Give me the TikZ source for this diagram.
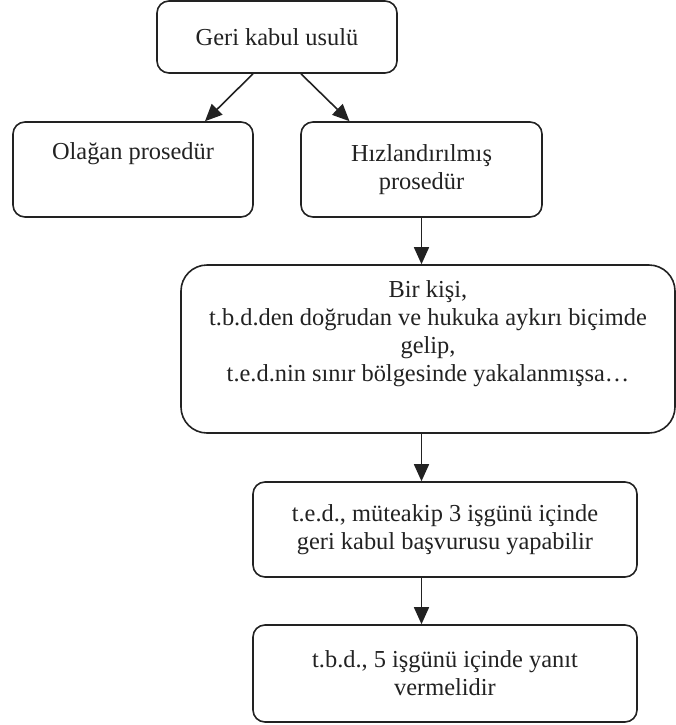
\documentclass[tikz,border=0pt]{standalone}
\usepackage{fontspec}
\setmainfont{Liberation Serif}
\usepackage{tikz}
\usepackage{xcolor}
\usetikzlibrary{arrows.meta,positioning}
\definecolor{ink}{HTML}{222222}
\tikzset{
  stepbox/.style={draw=ink,line width=0.8pt,rounded corners=6pt,
                  align=center,inner sep=3pt,text=ink,
                  font=\fontsize{12.2}{14}\selectfont},
  bigbox/.style={stepbox,rounded corners=13pt},
  flowarr/.style={-{Triangle[length=8.5pt,width=7.5pt]},line width=0.8pt,
                  draw=ink}
}
\begin{document}
\begin{tikzpicture}[x=0.5pt,y=-0.5pt]
    \path[use as bounding box] (0,0) rectangle (676,725);
    \node[stepbox,minimum width=120pt,minimum height=36pt] (geri) at (277,37)
      {Geri kabul usulü};
    \node[stepbox,minimum width=120pt,minimum height=47.5pt] (olagan) at (133,169.5)
      {Olağan prosedür\\\strut};
    \node[stepbox,minimum width=120.5pt,minimum height=47.5pt] (hiz) at (421.5,169.5)
      {Hızlandırılmış\\prosedür};
    \node[bigbox,minimum width=247pt,minimum height=84pt] (kisi) at (428,349)
      {Bir kişi,\\t.b.d.den doğrudan ve hukuka aykırı biçimde\\gelip,\\t.e.d.nin sınır bölgesinde yakalanmışsa…\\[4pt]};
    \node[stepbox,minimum width=192pt,minimum height=47.5pt] (ted) at (445,529.5)
      {t.e.d., müteakip 3 işgünü içinde\\geri kabul başvurusu yapabilir};
    \node[stepbox,minimum width=192pt,minimum height=48.5pt] (tbd) at (445,673.5)
      {t.b.d., 5 işgünü içinde yanıt\\vermelidir};
    \draw[flowarr] ([xshift=-12pt]geri.south) -- ([xshift=36pt]olagan.north);
    \draw[flowarr] ([xshift=12pt]geri.south) -- ([xshift=-36pt]hiz.north);
    \draw[flowarr] (hiz.south) -- (hiz.south |- kisi.north);
    \draw[flowarr] (kisi.south -| hiz.south) -- (hiz.south |- ted.north);
    \draw[flowarr] (ted.south -| hiz.south) -- (hiz.south |- tbd.north);
  \end{tikzpicture}
\end{document}
